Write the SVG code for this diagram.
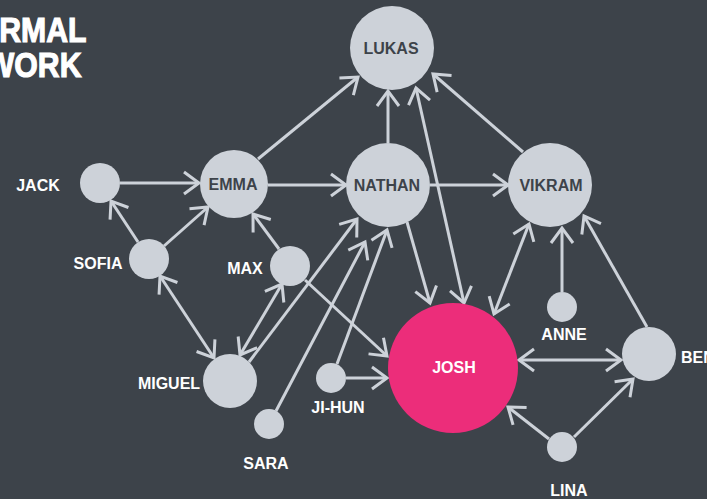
<svg xmlns="http://www.w3.org/2000/svg" width="707" height="499" viewBox="0 0 707 499">
<style>
.bg{fill:#3d434a}
.n{fill:#cdd2d9}
.hub{fill:#ec2d7a}
.e{stroke:#cdd2d9;stroke-width:3;fill:none}
.lbl{font-family:"Liberation Sans",Arial,sans-serif;font-weight:bold;font-size:16px;fill:#ffffff;text-anchor:middle}
.in{font-family:"Liberation Sans",Arial,sans-serif;font-weight:bold;font-size:16px;fill:#3d434a;text-anchor:middle}
.title{font-family:"Liberation Sans",Arial,sans-serif;font-weight:bold;font-size:36px;fill:#ffffff;stroke:#ffffff;stroke-width:1.2;text-anchor:end}
</style>
<defs>
<marker id="ah" markerUnits="userSpaceOnUse" markerWidth="24" markerHeight="30" viewBox="-20 -15 24 30" refX="0" refY="0" orient="auto">
<path d="M-15,-11 L0,0 L-15,11" fill="none" stroke="#cdd2d9" stroke-width="3"/>
</marker>
<marker id="as" markerUnits="userSpaceOnUse" markerWidth="24" markerHeight="30" viewBox="-20 -15 24 30" refX="0" refY="0" orient="auto-start-reverse">
<path d="M-15,-11 L0,0 L-15,11" fill="none" stroke="#cdd2d9" stroke-width="3"/>
</marker>
</defs>
<rect class="bg" x="0" y="0" width="707" height="499"/>
<g id="title" transform="scale(0.84,1)">
<text class="title" x="103" y="42">RMAL</text>
<text class="title" x="97" y="77">WORK</text>
</g>
<g id="connectors">
<line class="e" x1="120" y1="183" x2="199" y2="183" marker-end="url(#ah)"/>
<line class="e" x1="138" y1="242" x2="111" y2="201" marker-end="url(#ah)"/>
<line class="e" x1="164" y1="246" x2="208" y2="207" marker-end="url(#ah)"/>
<line class="e" x1="160" y1="276" x2="214" y2="358" marker-start="url(#as)" marker-end="url(#ah)"/>
<line class="e" x1="279" y1="249" x2="253" y2="214" marker-end="url(#ah)"/>
<line class="e" x1="282" y1="284" x2="240" y2="355" marker-start="url(#as)" marker-end="url(#ah)"/>
<line class="e" x1="249" y1="362" x2="357" y2="219" marker-end="url(#ah)"/>
<line class="e" x1="276" y1="411" x2="365" y2="242" marker-end="url(#ah)"/>
<line class="e" x1="337" y1="364" x2="387" y2="230" marker-end="url(#ah)"/>
<line class="e" x1="305" y1="280" x2="387" y2="356" marker-end="url(#ah)"/>
<line class="e" x1="346" y1="378" x2="387" y2="378" marker-end="url(#ah)"/>
<line class="e" x1="258" y1="159" x2="358" y2="77" marker-end="url(#ah)"/>
<line class="e" x1="268" y1="185" x2="346" y2="185" marker-end="url(#ah)"/>
<line class="e" x1="388" y1="143" x2="388" y2="91" marker-end="url(#ah)"/>
<line class="e" x1="430" y1="185" x2="508" y2="185" marker-end="url(#ah)"/>
<line class="e" x1="407" y1="222" x2="430" y2="303" marker-end="url(#ah)"/>
<line class="e" x1="416" y1="88" x2="464" y2="303" marker-start="url(#as)" marker-end="url(#ah)"/>
<line class="e" x1="523" y1="152" x2="433" y2="74" marker-end="url(#ah)"/>
<line class="e" x1="529" y1="224" x2="494" y2="314" marker-start="url(#as)" marker-end="url(#ah)"/>
<line class="e" x1="562" y1="292" x2="562" y2="228" marker-end="url(#ah)"/>
<line class="e" x1="647" y1="327" x2="584" y2="216" marker-end="url(#ah)"/>
<line class="e" x1="519" y1="360" x2="621" y2="360" marker-start="url(#as)" marker-end="url(#ah)"/>
<line class="e" x1="549" y1="439" x2="508" y2="407" marker-end="url(#ah)"/>
<line class="e" x1="574" y1="437" x2="633" y2="379" marker-end="url(#ah)"/>
</g>
<g id="lukas"><circle class="n" cx="392" cy="48" r="42"/><text class="in" x="391" y="54">LUKAS</text></g>
<g id="emma"><circle class="n" cx="234" cy="184" r="34"/><text class="in" x="233" y="190">EMMA</text></g>
<g id="nathan"><circle class="n" cx="388" cy="185" r="42"/><text class="in" x="387" y="191">NATHAN</text></g>
<g id="vikram"><circle class="n" cx="550" cy="185" r="42"/><text class="in" x="551" y="191">VIKRAM</text></g>
<g id="jack"><circle class="n" cx="100" cy="183" r="20"/><text class="lbl" x="38" y="191">JACK</text></g>
<g id="sofia"><circle class="n" cx="149" cy="259" r="20"/><text class="lbl" x="98" y="269">SOFIA</text></g>
<g id="max"><circle class="n" cx="290" cy="266" r="20"/><text class="lbl" x="245" y="274">MAX</text></g>
<g id="miguel"><circle class="n" cx="230" cy="381" r="27"/><text class="lbl" x="169" y="389">MIGUEL</text></g>
<g id="sara"><circle class="n" cx="269" cy="424" r="15"/><text class="lbl" x="266" y="469">SARA</text></g>
<g id="jihun"><circle class="n" cx="331" cy="378" r="15"/><text class="lbl" x="338" y="413">JI-HUN</text></g>
<g id="josh"><circle class="hub" cx="453" cy="368" r="65"/><text class="lbl" x="454" y="373">JOSH</text></g>
<g id="anne"><circle class="n" cx="562" cy="307" r="15"/><text class="lbl" x="564" y="340">ANNE</text></g>
<g id="ben"><circle class="n" cx="649" cy="354" r="27"/><text class="lbl" x="681" y="363" style="text-anchor:start">BEN</text></g>
<g id="lina"><circle class="n" cx="562" cy="447" r="15"/><text class="lbl" x="569" y="496">LINA</text></g>
</svg>
